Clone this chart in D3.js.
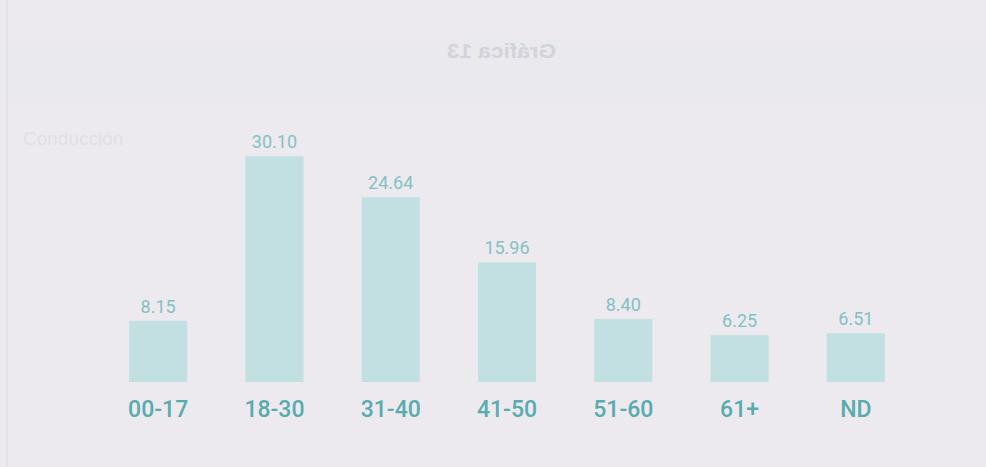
<!DOCTYPE html>
<html>
<head>
<meta charset="utf-8">
<script src="https://cdn.jsdelivr.net/npm/d3@7"></script>
<style>
  html, body { margin: 0; padding: 0; background: #eceaef; }
  svg { display: block; }
</style>
</head>
<body>
<svg id="chart" width="986" height="467"></svg>
<script>
// ---- data ----
const categories = ["00-17", "18-30", "31-40", "41-50", "51-60", "61+", "ND"];
const values = [8.15, 30.10, 24.64, 15.96, 8.40, 6.25, 6.51];
const valueLabels = ["8.15", "30.10", "24.64", "15.96", "8.40", "6.25", "6.51"];
// faint show-through text from the reverse side of the scanned page
const ghostCaption = "Gráfica 13";
const ghostTableLabels = ["Conducción"];

const W = 986, H = 467;
const svg = d3.select("#chart");

// background
svg.append("rect").attr("width", W).attr("height", H).attr("fill", "#eceaef");
// faint table border on the left
svg.append("line").attr("x1", 7).attr("x2", 7).attr("y1", 0).attr("y2", H)
  .attr("stroke", "#e3e2e7").attr("stroke-width", 2);
// faint header band
svg.append("rect").attr("x", 8).attr("y", 40).attr("width", W - 8).attr("height", 62)
  .attr("fill", "#e9e9ee");

// ghost mirrored caption
svg.append("text")
  .attr("transform", "translate(556,58) scale(-1,1)")
  .attr("x", 0).attr("y", 0)
  .attr("textLength", 109).attr("lengthAdjust", "spacingAndGlyphs")
  .attr("font-family", "Liberation Sans, Arial, sans-serif")
  .attr("font-weight", "bold")
  .attr("font-size", 21).attr("fill", "#d3d3d9")
  .text(ghostCaption);
svg.append("g").selectAll("text").data(ghostTableLabels).join("text")
  .attr("x", 23).attr("y", 145)
  .attr("font-family", "Liberation Sans, Arial, sans-serif")
  .attr("font-size", 19).attr("fill", "#e0dfe4")
  .text(d => d);

// ---- scales ----
const x = d3.scaleBand().domain(categories).range([100, 914])
  .paddingInner(0.5).paddingOuter(0.25);
const y = d3.scaleLinear().domain([0, 34]).range([382, 127]);

const data = categories.map((c, i) => ({ c, v: values[i], label: valueLabels[i] }));

// bars
svg.append("g").selectAll("rect").data(data).join("rect")
  .attr("x", d => x(d.c))
  .attr("y", d => y(d.v))
  .attr("width", x.bandwidth())
  .attr("height", d => y(0) - y(d.v))
  .attr("fill", "#c2e0e1");

// value labels
svg.append("g").selectAll("text").data(data).join("text")
  .attr("x", d => x(d.c) + x.bandwidth() / 2)
  .attr("y", d => y(d.v) - 8)
  .attr("text-anchor", "middle")
  .attr("font-family", "Roboto, sans-serif")
  .attr("font-size", 18)
  .attr("fill", "#84c1c3")
  .text(d => d.label);

// category axis labels
const axis = d3.axisBottom(x).tickSize(0).tickPadding(0);
const gAxis = svg.append("g").attr("transform", "translate(0,401)").call(axis);
gAxis.select(".domain").remove();
gAxis.selectAll("text")
  .attr("dy", "0.71em")
  .attr("font-family", "Roboto, sans-serif")
  .attr("font-size", 23)
  .attr("font-weight", 500)
  .attr("fill", "#5aabae");
</script>
</body>
</html>
